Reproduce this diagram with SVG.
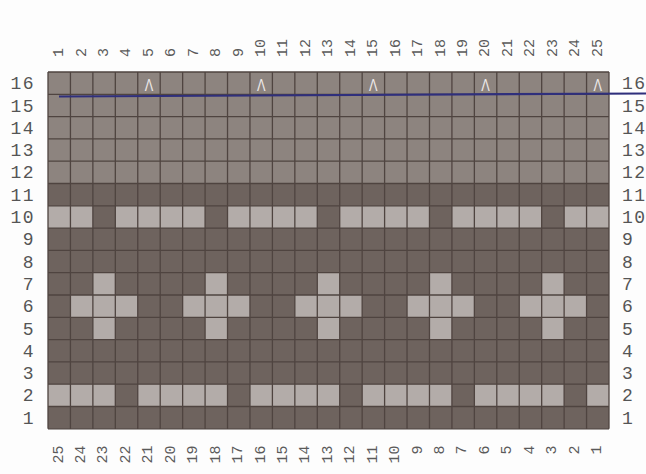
<svg xmlns="http://www.w3.org/2000/svg" width="646" height="474" viewBox="0 0 646 474">
<style>
.bg{fill:#fdfdfd}
.med{fill:#8d847f}
.dark{fill:#6e635e}
.light{fill:#b3aca9}
.grid{stroke:#4f4440;stroke-width:1.3;fill:none;vector-effect:non-scaling-stroke}
.rl{font-family:"Liberation Mono",monospace;font-size:18px;fill:#555;letter-spacing:1.5px}
.cl{font-family:"Liberation Mono",monospace;font-size:15px;fill:#5a5a5a}
.caret{font-family:"Liberation Sans",sans-serif;font-size:17px;fill:#ece8e8;text-anchor:middle}
.mark{stroke:#2f2f7c;stroke-width:2.2;fill:none}
</style>
<rect class="bg" x="0" y="0" width="646" height="474"/>
<g id="grid" transform="translate(48,72) scale(22.44,22.3)">
  <rect class="med" x="0" y="0" width="25" height="5"/>
  <rect class="dark" x="0" y="5" width="25" height="11"/>
  <g id="row10">
    <rect class="light" x="0" y="6" width="2" height="1"/>
    <rect class="light" x="3" y="6" width="4" height="1"/>
    <rect class="light" x="8" y="6" width="4" height="1"/>
    <rect class="light" x="13" y="6" width="4" height="1"/>
    <rect class="light" x="18" y="6" width="4" height="1"/>
    <rect class="light" x="23" y="6" width="2" height="1"/>
  </g>
  <g id="row7">
    <rect class="light" x="2" y="9" width="1" height="1"/>
    <rect class="light" x="7" y="9" width="1" height="1"/>
    <rect class="light" x="12" y="9" width="1" height="1"/>
    <rect class="light" x="17" y="9" width="1" height="1"/>
    <rect class="light" x="22" y="9" width="1" height="1"/>
  </g>
  <g id="row6">
    <rect class="light" x="1" y="10" width="3" height="1"/>
    <rect class="light" x="6" y="10" width="3" height="1"/>
    <rect class="light" x="11" y="10" width="3" height="1"/>
    <rect class="light" x="16" y="10" width="3" height="1"/>
    <rect class="light" x="21" y="10" width="3" height="1"/>
  </g>
  <g id="row5">
    <rect class="light" x="2" y="11" width="1" height="1"/>
    <rect class="light" x="7" y="11" width="1" height="1"/>
    <rect class="light" x="12" y="11" width="1" height="1"/>
    <rect class="light" x="17" y="11" width="1" height="1"/>
    <rect class="light" x="22" y="11" width="1" height="1"/>
  </g>
  <g id="row2">
    <rect class="light" x="0" y="14" width="3" height="1"/>
    <rect class="light" x="4" y="14" width="4" height="1"/>
    <rect class="light" x="9" y="14" width="4" height="1"/>
    <rect class="light" x="14" y="14" width="4" height="1"/>
    <rect class="light" x="19" y="14" width="4" height="1"/>
    <rect class="light" x="24" y="14" width="1" height="1"/>
  </g>
  <path class="grid" d="M0 0V16M1 0V16M2 0V16M3 0V16M4 0V16M5 0V16M6 0V16M7 0V16M8 0V16M9 0V16M10 0V16M11 0V16M12 0V16M13 0V16M14 0V16M15 0V16M16 0V16M17 0V16M18 0V16M19 0V16M20 0V16M21 0V16M22 0V16M23 0V16M24 0V16M25 0V16M0 0H25M0 1H25M0 2H25M0 3H25M0 4H25M0 5H25M0 6H25M0 7H25M0 8H25M0 9H25M0 10H25M0 11H25M0 12H25M0 13H25M0 14H25M0 15H25M0 16H25"/>
</g>
<g id="carets">
  <text class="caret" transform="translate(148.98,91) scale(0.75,1)">Λ</text>
  <text class="caret" transform="translate(261.18,91) scale(0.75,1)">Λ</text>
  <text class="caret" transform="translate(373.38,91) scale(0.75,1)">Λ</text>
  <text class="caret" transform="translate(485.58,91) scale(0.75,1)">Λ</text>
  <text class="caret" transform="translate(597.78,91) scale(0.75,1)">Λ</text>
</g>
<g id="connectors">
  <line class="mark" x1="59" y1="96.5" x2="646" y2="93.5"/>
</g>
<g id="left-labels" class="rl" text-anchor="end">
  <text x="35" y="89.2">16</text>
  <text x="35" y="111.5">15</text>
  <text x="35" y="133.8">14</text>
  <text x="35" y="156.1">13</text>
  <text x="35" y="178.4">12</text>
  <text x="35" y="200.7">11</text>
  <text x="35" y="223">10</text>
  <text x="35" y="245.3">9</text>
  <text x="35" y="267.6">8</text>
  <text x="35" y="289.9">7</text>
  <text x="35" y="312.2">6</text>
  <text x="35" y="334.5">5</text>
  <text x="35" y="356.8">4</text>
  <text x="35" y="379.1">3</text>
  <text x="35" y="401.4">2</text>
  <text x="35" y="423.7">1</text>
</g>
<g id="right-labels" class="rl">
  <text x="622" y="89.2">16</text>
  <text x="622" y="111.5">15</text>
  <text x="622" y="133.8">14</text>
  <text x="622" y="156.1">13</text>
  <text x="622" y="178.4">12</text>
  <text x="622" y="200.7">11</text>
  <text x="622" y="223">10</text>
  <text x="622" y="245.3">9</text>
  <text x="622" y="267.6">8</text>
  <text x="622" y="289.9">7</text>
  <text x="622" y="312.2">6</text>
  <text x="622" y="334.5">5</text>
  <text x="622" y="356.8">4</text>
  <text x="622" y="379.1">3</text>
  <text x="622" y="401.4">2</text>
  <text x="622" y="423.7">1</text>
</g>
<g id="top-labels" class="cl">
  <text transform="translate(63,57) rotate(-90)">1</text>
  <text transform="translate(85.5,57) rotate(-90)">2</text>
  <text transform="translate(107.9,57) rotate(-90)">3</text>
  <text transform="translate(130.3,57) rotate(-90)">4</text>
  <text transform="translate(152.8,57) rotate(-90)">5</text>
  <text transform="translate(175.2,57) rotate(-90)">6</text>
  <text transform="translate(197.7,57) rotate(-90)">7</text>
  <text transform="translate(220.1,57) rotate(-90)">8</text>
  <text transform="translate(242.5,57) rotate(-90)">9</text>
  <text transform="translate(265,57) rotate(-90)">10</text>
  <text transform="translate(287.4,57) rotate(-90)">11</text>
  <text transform="translate(309.9,57) rotate(-90)">12</text>
  <text transform="translate(332.3,57) rotate(-90)">13</text>
  <text transform="translate(354.7,57) rotate(-90)">14</text>
  <text transform="translate(377.2,57) rotate(-90)">15</text>
  <text transform="translate(399.6,57) rotate(-90)">16</text>
  <text transform="translate(422.1,57) rotate(-90)">17</text>
  <text transform="translate(444.5,57) rotate(-90)">18</text>
  <text transform="translate(466.9,57) rotate(-90)">19</text>
  <text transform="translate(489.4,57) rotate(-90)">20</text>
  <text transform="translate(511.8,57) rotate(-90)">21</text>
  <text transform="translate(534.3,57) rotate(-90)">22</text>
  <text transform="translate(556.7,57) rotate(-90)">23</text>
  <text transform="translate(579.1,57) rotate(-90)">24</text>
  <text transform="translate(601.6,57) rotate(-90)">25</text>
</g>
<g id="bottom-labels" class="cl" text-anchor="end">
  <text transform="translate(62.5,445.5) rotate(-90)">25</text>
  <text transform="translate(85,445.5) rotate(-90)">24</text>
  <text transform="translate(107.4,445.5) rotate(-90)">23</text>
  <text transform="translate(129.8,445.5) rotate(-90)">22</text>
  <text transform="translate(152.3,445.5) rotate(-90)">21</text>
  <text transform="translate(174.7,445.5) rotate(-90)">20</text>
  <text transform="translate(197.2,445.5) rotate(-90)">19</text>
  <text transform="translate(219.6,445.5) rotate(-90)">18</text>
  <text transform="translate(242,445.5) rotate(-90)">17</text>
  <text transform="translate(264.5,445.5) rotate(-90)">16</text>
  <text transform="translate(286.9,445.5) rotate(-90)">15</text>
  <text transform="translate(309.4,445.5) rotate(-90)">14</text>
  <text transform="translate(331.8,445.5) rotate(-90)">13</text>
  <text transform="translate(354.2,445.5) rotate(-90)">12</text>
  <text transform="translate(376.7,445.5) rotate(-90)">11</text>
  <text transform="translate(399.1,445.5) rotate(-90)">10</text>
  <text transform="translate(421.6,445.5) rotate(-90)">9</text>
  <text transform="translate(444,445.5) rotate(-90)">8</text>
  <text transform="translate(466.4,445.5) rotate(-90)">7</text>
  <text transform="translate(488.9,445.5) rotate(-90)">6</text>
  <text transform="translate(511.3,445.5) rotate(-90)">5</text>
  <text transform="translate(533.8,445.5) rotate(-90)">4</text>
  <text transform="translate(556.2,445.5) rotate(-90)">3</text>
  <text transform="translate(578.6,445.5) rotate(-90)">2</text>
  <text transform="translate(601.1,445.5) rotate(-90)">1</text>
</g>
</svg>
